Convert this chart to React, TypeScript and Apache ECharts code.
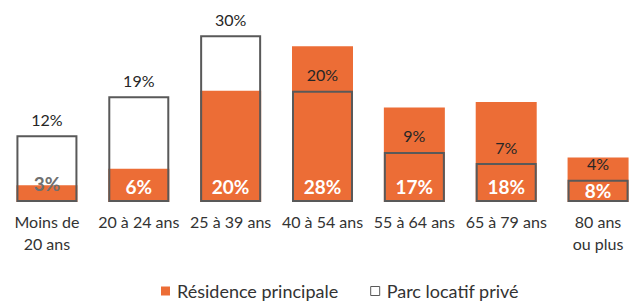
import React, { useEffect, useRef } from "react";
import * as echarts from "echarts";

const categories = ["Moins de\n20 ans", "20 à 24 ans", "25 à 39 ans", "40 à 54 ans", "55 à 64 ans", "65 à 79 ans", "80 ans\nou plus"];
const residencePrincipale = [3, 6, 20, 28, 17, 18, 8];
const parcLocatifPrive = [12, 19, 30, 20, 9, 7, 4];
const seriesNames = ["Résidence principale", "Parc locatif privé"];

const ORANGE = "#EC6D36";
const GREY = "#595959";
const FONT = "Lato, 'Noto Sans', sans-serif";

export default function App() {
  const ref = useRef<HTMLDivElement>(null);
  useEffect(() => {
    document.body.style.margin = "0";
    document.body.style.overflow = "hidden";
    document.documentElement.style.overflow = "hidden";
    const chart = echarts.init(ref.current!, null, { renderer: "svg" });
    const rpData = residencePrincipale.map((v, i) => {
      const item: any = { value: v };
      if (i === 0) item.label = { color: "#6f6f6f", distance: 9 };
      if (i === 6) item.label = { distance: 2 };
      return item;
    });
    chart.setOption({
      animation: false,
      textStyle: { fontFamily: FONT },
      grid: { left: 1, right: 1, top: 24, bottom: 102, containLabel: false },
      legend: {
        left: 161,
        top: 281,
        icon: "rect",
        itemWidth: 9,
        itemHeight: 9,
        itemGap: 32,
        padding: 0,
        textStyle: { fontSize: 18, lineHeight: 20, color: "#333", fontFamily: FONT, padding: [0, 0, 0, 2] },
        data: [
          { name: seriesNames[0], itemStyle: { color: ORANGE } },
          { name: seriesNames[1], itemStyle: { color: "#fff", borderColor: GREY, borderWidth: 1 } },
        ],
      },
      xAxis: {
        type: "category",
        data: categories,
        axisLine: { show: false },
        axisTick: { show: false },
        axisLabel: { fontSize: 16, color: "#333", lineHeight: 22, margin: 8, interval: 0, fontFamily: FONT },
      },
      yAxis: {
        type: "value",
        min: 0,
        max: 32,
        show: false,
        splitLine: { show: false },
      },
      series: [
        {
          name: seriesNames[0],
          type: "bar",
          data: rpData,
          barWidth: 61,
          barGap: "-100%",
          itemStyle: { color: ORANGE },
          label: {
            show: true,
            position: "insideBottom",
            distance: 6,
            formatter: "{c}%",
            color: "#fff",
            fontWeight: "bold",
            fontSize: 19,
            fontFamily: FONT,
          },
        },
        {
          name: seriesNames[1],
          type: "bar",
          data: parcLocatifPrive,
          barWidth: 61,
          barGap: "-100%",
          itemStyle: { color: "rgba(0,0,0,0)", borderColor: GREY, borderWidth: 2 },
          label: {
            show: true,
            position: "top",
            distance: 8,
            formatter: "{c}%",
            color: "#262626",
            fontSize: 16,
            fontFamily: FONT,
          },
        },
      ],
    });
    return () => chart.dispose();
  }, []);
  return <div ref={ref} style={{ width: 645, height: 304 }} />;
}
